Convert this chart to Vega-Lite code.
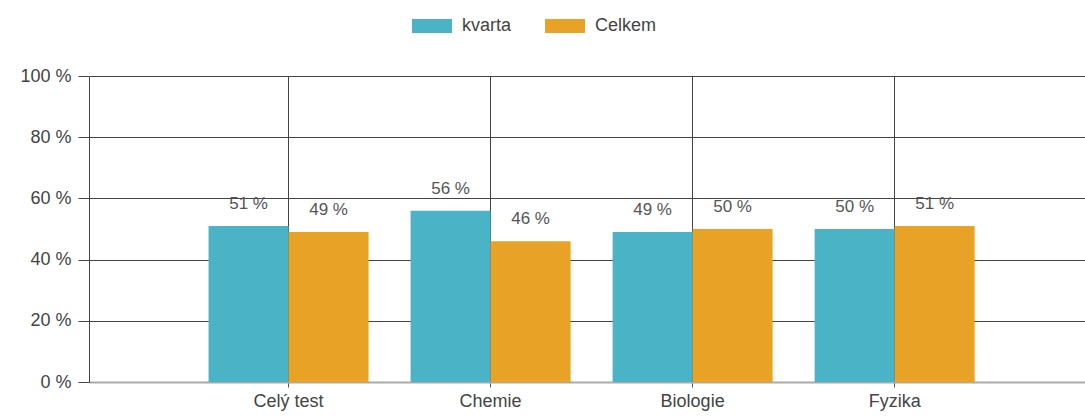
{
  "$schema": "https://vega.github.io/schema/vega-lite/v6.json",
  "width": 996,
  "height": 306,
  "autosize": {"type": "none"},
  "padding": {"left": 89, "top": 76, "right": 0, "bottom": 35},
  "background": "white",
  "config": {
    "view": {"stroke": null},
    "font": "Liberation Sans",
    "axis": {"labelFont": "Liberation Sans", "labelColor": "#444", "labelFontSize": 18},
    "legend": {"labelFont": "Liberation Sans"}
  },
  "data": {
    "values": [
      {"oblast": "Celý test", "skupina": "kvarta", "hodnota": 51},
      {"oblast": "Celý test", "skupina": "Celkem", "hodnota": 49},
      {"oblast": "Chemie", "skupina": "kvarta", "hodnota": 56},
      {"oblast": "Chemie", "skupina": "Celkem", "hodnota": 46},
      {"oblast": "Biologie", "skupina": "kvarta", "hodnota": 49},
      {"oblast": "Biologie", "skupina": "Celkem", "hodnota": 50},
      {"oblast": "Fyzika", "skupina": "kvarta", "hodnota": 50},
      {"oblast": "Fyzika", "skupina": "Celkem", "hodnota": 51}
    ]
  },
  "encoding": {
    "x": {
      "field": "oblast",
      "type": "nominal",
      "sort": ["Celý test", "Chemie", "Biologie", "Fyzika"],
      "scale": {"paddingInner": 0.208, "paddingOuter": 0.569, "align": 0.52},
      "axis": {
        "title": null,
        "labelAngle": 0,
        "grid": true,
        "gridColor": "#444",
        "gridWidth": 1,
        "gridOpacity": 1,
        "bandPosition": 0.5,
        "domainColor": "#aaa",
        "domainWidth": 2,
        "tickColor": "#555",
        "tickSize": 5,
        "labelPadding": 5,
        "labelFontSize": 18
      }
    },
    "xOffset": {
      "field": "skupina",
      "type": "nominal",
      "sort": ["kvarta", "Celkem"],
      "scale": {"paddingInner": 0, "paddingOuter": 0}
    },
    "y": {
      "field": "hodnota",
      "type": "quantitative",
      "scale": {"domain": [0, 100], "nice": false},
      "axis": {
        "title": null,
        "values": [0, 20, 40, 60, 80, 100],
        "labelExpr": "datum.value + ' %'",
        "grid": true,
        "gridColor": "#444",
        "gridWidth": 1,
        "gridOpacity": 1,
        "domainColor": "#444",
        "domainWidth": 1,
        "tickColor": "#444",
        "tickSize": 11,
        "labelPadding": 7,
        "labelFontSize": 18
      }
    }
  },
  "layer": [
    {
      "mark": {"type": "bar"},
      "encoding": {
        "color": {
          "field": "skupina",
          "type": "nominal",
          "sort": ["kvarta", "Celkem"],
          "scale": {"domain": ["kvarta", "Celkem"], "range": ["#4AB3C5", "#E8A225"]},
          "legend": {
            "title": null,
            "orient": "none",
            "direction": "horizontal",
            "legendX": 323,
            "legendY": -70,
            "symbolType": "M-1,-0.35H1V0.35H-1Z",
            "symbolSize": 1600,
            "symbolStrokeWidth": 0,
            "labelFontSize": 18,
            "labelColor": "#444",
            "labelOffset": 10,
            "columnPadding": 33
          }
        }
      }
    },
    {
      "mark": {
        "type": "text",
        "baseline": "alphabetic",
        "dy": -17,
        "fontSize": 17,
        "color": "#555",
        "text": {"expr": "datum.hodnota + ' %'"}
      },
      "encoding": {}
    }
  ]
}
